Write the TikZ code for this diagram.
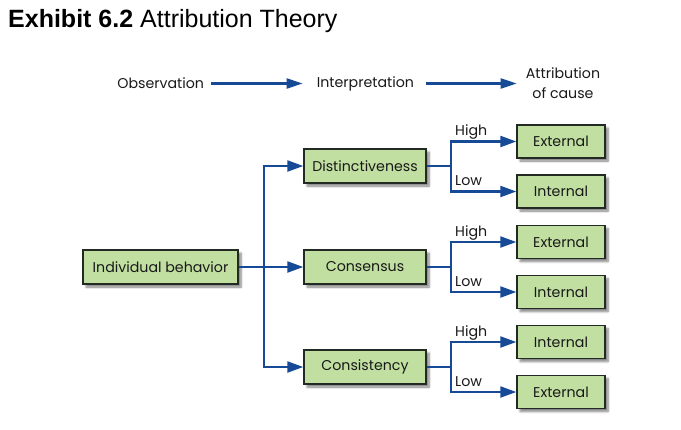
\documentclass[tikz,border=0pt]{standalone}
\usepackage{fontspec}
\setmainfont{Poppins}
\newfontfamily\titlefont{Liberation Sans}
\usetikzlibrary{arrows.meta,shadows.blur}
\definecolor{linkblue}{RGB}{22,74,150}
\definecolor{boxgreen}{RGB}{192,223,160}
\definecolor{boxedge}{RGB}{35,42,35}
\tikzset{
  txt/.style={font=\fontsize{14.2}{16}\selectfont, text=black!90, inner sep=0pt},
  gbox/.style={draw=boxedge, line width=1.4pt, fill=boxgreen, minimum height=34pt,
     inner sep=0pt, font=\fontsize{14.2}{16}\selectfont, text=black!90,
     blur shadow={shadow xshift=3pt, shadow yshift=-3pt, shadow blur steps=6, shadow opacity=50}},
  lbox/.style={gbox, minimum width=155pt},
  mbox/.style={gbox, minimum width=122pt},
  rbox/.style={gbox, minimum width=88pt, minimum height=33pt},
  link/.style={draw=linkblue, line width=2.2pt},
  arr/.style={link, -{Triangle[length=16pt,width=11pt]}},
  harr/.style={link, -{Triangle[length=16pt,width=10pt]}},
}
\begin{document}
\begin{tikzpicture}[x=1pt,y=-1pt]
\useasboundingbox (0,0) rectangle (681,429);
% title
\node[anchor=base west, inner sep=0pt, font=\titlefont\fontsize{25}{30}\selectfont] (title) at (8,27) {\textbf{Exhibit 6.2} Attribution Theory};
% header
\node[txt] (obs) at (160.7,83.5) {Observation};
\node[txt] (interp) at (365.4,83.5) {Interpretation};
\node[txt, align=center, font=\fontsize{14.2}{20}\selectfont] (attr) at (563,83) {Attribution\\of cause};
\draw[harr, shorten <=7pt, shorten >=14pt] (obs.east) -- (interp.west);
\draw[harr, shorten <=12pt, shorten >=9pt] (interp.east) -- (interp.east -| attr.west);
% boxes
\node[lbox] (ib) at (160.5,267) {Individual behavior};
\node[mbox] (dist) at (365,166) {Distinctiveness};
\node[mbox] (cons) at (365,267) {Consensus};
\node[mbox] (csty) at (365,367) {Consistency};
\node[rbox] (e1) at (561,141.5) {External};
\node[rbox] (i1) at (561,191.5) {Internal};
\node[rbox] (e2) at (561,242) {External};
\node[rbox] (i2) at (561,292) {Internal};
\node[rbox] (i3) at (561,342) {Internal};
\node[rbox] (e3) at (561,392) {External};
% left tree
\coordinate (trunk) at (264,267);
\draw[arr] (ib.east) -- (cons.west);
\draw[arr] (trunk) |- (dist.west);
\draw[arr] (trunk) |- (csty.west);
% right branches
\coordinate (b1) at (451,166);
\coordinate (b2) at (451,267);
\coordinate (b3) at (451,367);
\draw[link] (dist.east) -- (b1);
\draw[link] (cons.east) -- (b2);
\draw[link] (csty.east) -- (b3);
\draw[arr] (b1) |- (e1.west);
\draw[arr] (b1) |- (i1.west);
\draw[arr] (b2) |- (e2.west);
\draw[arr] (b2) |- (i2.west);
\draw[arr] (b3) |- (i3.west);
\draw[arr] (b3) |- (e3.west);
% labels
\node[txt, anchor=base west] (h1) at (455,135.5) {High};
\node[txt, anchor=base west] (l1) at (455,185.5) {Low};
\node[txt, anchor=base west] (h2) at (455,236) {High};
\node[txt, anchor=base west] (l2) at (455,286) {Low};
\node[txt, anchor=base west] (h3) at (455,336) {High};
\node[txt, anchor=base west] (l3) at (455,386) {Low};
\end{tikzpicture}
\end{document}
